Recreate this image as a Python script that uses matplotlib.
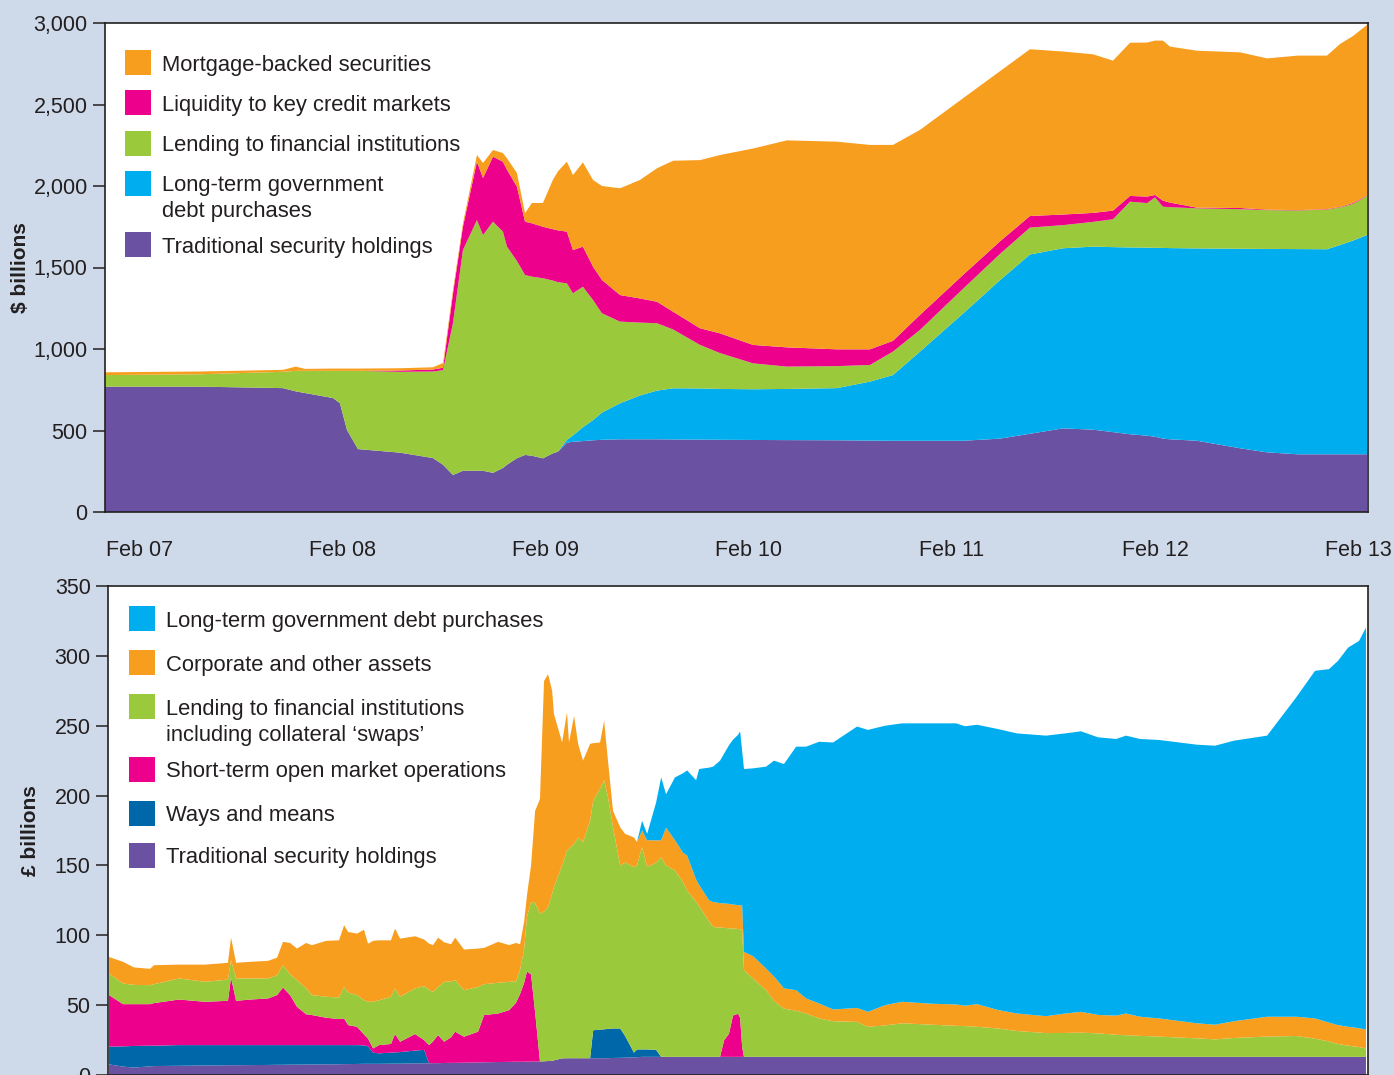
import matplotlib
matplotlib.use("Agg")
import matplotlib.pyplot as plt
from matplotlib.patches import Rectangle

# ---- US: Federal Reserve balance sheet, $ billions ----
us_dates = [2006.828, 2007.296, 2007.704, 2007.768, 2007.813, 2007.951, 2007.985, 2008.020, 2008.074, 2008.281,
            2008.443, 2008.493, 2008.542, 2008.591, 2008.660, 2008.690, 2008.739, 2008.788, 2008.808, 2008.857,
            2008.897, 2008.931, 2008.985, 2009.034, 2009.059, 2009.103, 2009.133, 2009.182, 2009.232, 2009.276,
            2009.365, 2009.463, 2009.547, 2009.626, 2009.759, 2009.857, 2010.020, 2010.187, 2010.433, 2010.596,
            2010.709, 2010.842, 2011.054, 2011.236, 2011.384, 2011.547, 2011.695, 2011.793, 2011.877, 2011.961,
            2012.000, 2012.039, 2012.074, 2012.207, 2012.419, 2012.552, 2012.704, 2012.847, 2012.911, 2012.975,
            2013.044]
us_traditional = [769, 769, 760, 740, 730, 699, 668, 503, 386, 364,
                  331, 290, 227, 253, 253, 253, 240, 270, 290, 330,
                  350, 345, 329, 360, 370, 425, 431, 435, 440, 443,
                  446, 446, 446, 445, 444, 443, 442, 441, 440, 438,
                  437, 437, 437, 450, 480, 513, 505, 490, 477, 468,
                  462, 450, 446, 437, 391, 366, 354, 354, 354, 354,
                  354]
us_longterm = [0, 0, 0, 0, 0, 0, 0, 0, 0, 0,
               0, 0, 0, 0, 0, 0, 0, 0, 0, 0,
               0, 0, 0, 0, 0, 17, 39, 85, 124, 167,
               221, 269, 299, 314, 314, 312, 311, 314, 320, 362,
               403, 547, 780, 972, 1100, 1105, 1123, 1135, 1146, 1154,
               1159, 1170, 1173, 1180, 1224, 1248, 1259, 1258, 1284, 1311,
               1345]
us_lending = [71, 76, 100, 126, 136, 167, 198, 363, 480, 496,
              531, 580, 933, 1354, 1538, 1446, 1541, 1450, 1338, 1210,
              1104, 1099, 1105, 1060, 1040, 961, 872, 862, 736, 609,
              501, 447, 413, 361, 267, 220, 159, 137, 135, 102,
              144, 133, 152, 161, 165, 142, 152, 171, 281, 273,
              309, 253, 251, 246, 243, 238, 237, 243, 231, 225,
              240]
us_liquidity = [0, 0, 0, 0, 0, 0, 0, 0, 0, 8,
                12, 15, 180, 143, 358, 350, 399, 429, 472, 456,
                327, 327, 316, 315, 318, 317, 265, 246, 205, 204,
                163, 148, 132, 109, 102, 121, 113, 118, 103, 96,
                66, 92, 85, 77, 71, 65, 55, 53, 35, 40,
                15, 37, 28, 4, 7, 3, 2, 3, 3, 5,
                3]
us_mbs = [17, 17, 12, 26, 12, 14, 14, 14, 14, 14,
          14, 29, 22, 20, 41, 92, 41, 53, 70, 84,
          53, 125, 146, 302, 362, 429, 460, 517, 532, 577,
          655, 727, 819, 926, 1032, 1094, 1205, 1270, 1274, 1254,
          1202, 1135, 1084, 1044, 1023, 1000, 973, 920, 940, 945,
          947, 982, 957, 963, 955, 928, 948, 942, 999, 1025,
          1046]

# ---- UK: Bank of England balance sheet, £ billions ----
uk_dates = [2006.847, 2006.916, 2006.970, 2007.049, 2007.069, 2007.192, 2007.320, 2007.433, 2007.448, 2007.473,
            2007.542, 2007.631, 2007.675, 2007.704, 2007.739, 2007.773, 2007.818, 2007.847, 2007.916, 2007.980,
            2008.005, 2008.025, 2008.069, 2008.103, 2008.123, 2008.148, 2008.177, 2008.236, 2008.256, 2008.281,
            2008.355, 2008.399, 2008.424, 2008.443, 2008.468, 2008.498, 2008.532, 2008.552, 2008.596, 2008.665,
            2008.695, 2008.764, 2008.818, 2008.852, 2008.872, 2008.892, 2008.906, 2008.926, 2008.946, 2008.970,
            2008.990, 2009.010, 2009.030, 2009.039, 2009.079, 2009.103, 2009.113, 2009.138, 2009.158, 2009.182,
            2009.217, 2009.232, 2009.266, 2009.286, 2009.305, 2009.330, 2009.365, 2009.389, 2009.433, 2009.448,
            2009.473, 2009.498, 2009.542, 2009.567, 2009.591, 2009.635, 2009.675, 2009.695, 2009.739, 2009.754,
            2009.803, 2009.823, 2009.857, 2009.877, 2009.901, 2009.921, 2009.946, 2009.956, 2009.966, 2009.975,
            2010.020, 2010.084, 2010.123, 2010.172, 2010.232, 2010.281, 2010.345, 2010.414, 2010.532, 2010.586,
            2010.670, 2010.754, 2010.901, 2011.020, 2011.064, 2011.123, 2011.227, 2011.320, 2011.463, 2011.557,
            2011.635, 2011.719, 2011.808, 2011.857, 2011.926, 2012.020, 2012.207, 2012.296, 2012.389, 2012.552,
            2012.695, 2012.788, 2012.857, 2012.901, 2012.951, 2013.005, 2013.039]
uk_traditional = [7.6, 6.0, 5.3, 6.2, 6.4, 6.6, 6.8, 7.0, 7.0, 7.0,
                  7.1, 7.2, 7.3, 7.3, 7.4, 7.4, 7.5, 7.5, 7.6, 7.7,
                  7.8, 7.8, 7.9, 8.0, 8.0, 8.0, 8.0, 8.1, 8.1, 8.1,
                  8.3, 8.4, 8.4, 8.5, 8.5, 8.6, 8.7, 8.7, 8.8, 9.0,
                  9.1, 9.3, 9.4, 9.5, 9.5, 9.5, 9.6, 9.6, 9.7, 9.7,
                  9.8, 10.0, 10.0, 10.5, 11.9, 12.0, 12.0, 12.0, 12.0, 12.0,
                  12.0, 12.0, 12.0, 12.0, 12.0, 12.2, 12.3, 12.4, 12.6, 12.7,
                  13.0, 13.0, 13.0, 13.0, 13.0, 13.0, 13.0, 13.0, 13.0, 13.0,
                  13.0, 13.0, 13.0, 13.0, 13.0, 13.0, 13.0, 13.0, 13.0, 13.0,
                  13.0, 13.0, 13.0, 13.0, 13.0, 13.0, 13.0, 13.0, 13.0, 13.0,
                  13.0, 13.0, 13.0, 13.0, 13.0, 13.0, 13.0, 13.0, 13.0, 13.0,
                  13.0, 13.0, 13.0, 13.0, 13.0, 13.0, 13.0, 13.0, 13.0, 13.0,
                  13.0, 13.0, 13.0, 13.0, 13.0, 13.0, 13.0]
uk_ways = [12.7, 14.5, 15.5, 14.8, 14.6, 14.8, 14.6, 14.4, 14.4, 14.4,
           14.3, 14.2, 14.1, 14.1, 14.0, 14.0, 13.9, 13.9, 13.8, 13.7,
           13.6, 13.6, 13.5, 13.2, 12.5, 8.0, 7.5, 7.9, 8.1, 8.3,
           9.2, 9.6, 0, 0, 0, 0, 0, 0, 0, 0,
           0, 0, 0, 0, 0, 0, 0, 0, 0, 0,
           0, 0, 0, 0, 0, 0, 0, 0, 0, 0,
           0, 20.0, 20.5, 20.7, 21.0, 21.1, 21.0, 15.6, 3.4, 5.6,
           5.3, 5.3, 5.0, 0, 0, 0, 0, 0, 0, 0,
           0, 0, 0, 0, 0, 0, 0, 0, 0, 0,
           0, 0, 0, 0, 0, 0, 0, 0, 0, 0,
           0, 0, 0, 0, 0, 0, 0, 0, 0, 0,
           0, 0, 0, 0, 0, 0, 0, 0, 0, 0,
           0, 0, 0, 0, 0, 0, 0]
uk_short_term = [36.9, 30.2, 29.9, 29.7, 30.5, 32.6, 31.0, 31.7, 48.4, 31.7,
                 32.6, 33.4, 35.8, 41.2, 35.8, 27.4, 22.1, 21.5, 19.6, 18.6,
                 19.1, 14.3, 13.1, 7.8, 5.5, 3.0, 5.9, 6.2, 13.1, 7.4,
                 11.8, 7.0, 13.0, 15.5, 20.1, 15.2, 18.3, 22.3, 18.6, 22.0,
                 33.8, 34.7, 37.0, 42.2, 48.5, 56.5, 64.4, 62.4, 35.3, 0,
                 0, 0, 0, 0, 0, 0, 0, 0, 0, 0,
                 0, 0, 0, 0, 0, 0, 0, 0, 0, 0,
                 0, 0, 0, 0, 0, 0, 0, 0, 0, 0,
                 0, 0, 0, 11.8, 16.5, 29.6, 30.8, 28.0, 7.0, 0,
                 0, 0, 0, 0, 0, 0, 0, 0, 0, 0,
                 0, 0, 0, 0, 0, 0, 0, 0, 0, 0,
                 0, 0, 0, 0, 0, 0, 0, 0, 0, 0,
                 0, 0, 0, 0, 0, 0, 0]
uk_lending = [15.4, 14.8, 13.8, 13.6, 13.5, 15.1, 14.3, 15.2, 12.4, 16.0,
              15.1, 14.3, 14.2, 16.0, 14.8, 19.1, 18.5, 14.3, 15.0, 15.5,
              22.6, 23.3, 22.7, 24.5, 26.5, 33.4, 32.1, 33.8, 32.6, 32.2,
              32.7, 38.6, 39.6, 35.5, 34.4, 42.9, 40.0, 36.9, 33.3, 32.0,
              22.1, 22.0, 20.3, 15.3, 17.5, 24.0, 39.1, 52.0, 78.0, 105.8,
              107.2, 110.0, 120.0, 124.0, 138.1, 148.7, 150.0, 153.5, 158.0, 154.7,
              170.0, 164.4, 172.5, 178.3, 165.8, 144.1, 116.7, 124.0, 132.8, 131.7,
              144.8, 130.5, 134.0, 142.9, 137.0, 133.4, 125.0, 119.0, 111.0, 108.0,
              97.0, 92.9, 92.5, 80.5, 75.5, 62.2, 60.7, 63.3, 84.0, 62.0,
              56.0, 47.7, 40.0, 34.5, 33.0, 31.0, 27.5, 25.5, 25.0, 21.5,
              22.5, 24.0, 23.0, 22.2, 22.0, 21.5, 20.3, 18.5, 17.0, 17.1,
              17.3, 16.8, 15.8, 15.5, 15.0, 14.5, 13.2, 12.5, 13.5, 14.5,
              14.9, 13.0, 11.0, 9.2, 8.0, 7.0, 6.0]
uk_corporate = [11.9, 15.5, 12.5, 11.7, 13.6, 9.9, 12.3, 12.0, 16.1, 11.2,
                11.9, 12.6, 12.6, 16.7, 22.5, 22.6, 32.5, 35.7, 40.0, 40.9,
                44.1, 43.4, 44.0, 50.5, 41.5, 43.6, 42.9, 40.4, 42.9, 41.6,
                37.3, 33.4, 33.0, 33.4, 35.3, 28.3, 26.6, 30.4, 29.1, 27.5,
                26.0, 29.3, 26.3, 27.5, 18.1, 20.0, 15.5, 26.0, 66.0, 82.1,
                165.0, 166.9, 145.0, 123.8, 88.1, 98.8, 76.0, 91.5, 67.0, 58.3,
                55.0, 41.1, 33.0, 42.6, 26.2, 11.6, 27.4, 20.6, 21.2, 16.7,
                11.9, 19.2, 16.0, 12.1, 27.0, 21.6, 21.0, 25.0, 16.0, 15.0,
                15.0, 17.9, 17.5, 17.5, 17.5, 17.2, 17.1, 17.2, 17.4, 13.1,
                16.0, 15.5, 17.5, 14.5, 14.7, 10.8, 10.7, 8.4, 10.0, 10.7,
                14.5, 15.4, 15.0, 15.3, 14.6, 16.2, 13.2, 12.5, 12.1, 13.9,
                14.9, 13.2, 13.7, 15.5, 13.7, 13.0, 10.8, 10.5, 12.0, 14.2,
                13.8, 14.5, 13.5, 13.5, 13.5, 13.5, 13.6]
uk_longterm = [0, 0, 0, 0, 0, 0, 0, 0, 0, 0,
               0, 0, 0, 0, 0, 0, 0, 0, 0, 0,
               0, 0, 0, 0, 0, 0, 0, 0, 0, 0,
               0, 0, 0, 0, 0, 0, 0, 0, 0, 0,
               0, 0, 0, 0, 0, 0, 0, 0, 0, 0,
               0, 0, 0, 0, 0, 0, 0, 0, 0, 0,
               0, 0, 0, 0, 0, 0, 0, 0, 0, 0,
               7.0, 4.6, 27.0, 45.0, 24.0, 45.0, 57.0, 61.0, 71.0, 83.0,
               95.0, 96.9, 102.0, 107.2, 113.5, 118.0, 121.9, 124.5, 110.6, 130.9,
               134.5, 144.5, 154.5, 160.6, 174.3, 180.2, 187.3, 191.1, 201.4, 201.8,
               200.0, 199.3, 200.7, 201.2, 200.0, 200.0, 201.1, 200.5, 200.8, 200.5,
               200.8, 198.7, 198.0, 198.9, 198.8, 199.3, 199.4, 199.7, 200.8, 201.2,
               228.5, 248.8, 253.0, 260.7, 271.4, 277.2, 287.6]

year_ticks = [2007, 2008, 2009, 2010, 2011, 2012, 2013]
year_labels = ["Feb 07", "Feb 08", "Feb 09", "Feb 10", "Feb 11", "Feb 12", "Feb 13"]

# colours
BG = "#cedaea"
INK = "#231f20"
ORANGE = "#f89e1f"
PINK = "#ec008c"
GREEN = "#9bc93c"
CYAN = "#00aeef"
PURPLE = "#6a51a1"
NAVY = "#0068a9"

W, H = 1394, 1075
FS = 15.8
plt.rcParams['font.family'] = ['Liberation Sans', 'DejaVu Sans']

fig = plt.figure(figsize=(W / 100, H / 100), dpi=100, facecolor=BG)


def px_box(left, top, right, bottom):
    return [left / W, 1 - bottom / H, (right - left) / W, (bottom - top) / H]


def style_axis(ax, yticks):
    ax.set_facecolor("white")
    for s in ax.spines.values():
        s.set_linewidth(1.2)
        s.set_color(INK)
    ax.set_yticks(yticks)
    ax.set_yticklabels([f"{v:,}" for v in yticks])
    ax.tick_params(axis="y", direction="out", length=8.5, width=1.1,
                   pad=4, labelsize=15.5, colors=INK)


def draw_legend(entries, x_box, x_text, tops, box_w=26, box_h=25):
    for (label, color), top in zip(entries, tops):
        fig.patches.append(Rectangle((x_box / W, 1 - (top + box_h) / H), box_w / W, box_h / H,
                                     transform=fig.transFigure, facecolor=color, edgecolor="none"))
        base = top + box_h / 2 + 8
        for i, line in enumerate(label.split("\n")):
            fig.text(x_text / W, 1 - (base + i * 26) / H, line, va="baseline", ha="left",
                     fontsize=FS, color=INK)


# ---- top panel ----
ax1 = fig.add_axes(px_box(105, 23, 1368, 512))
ax1.stackplot(us_dates, us_traditional, us_longterm, us_lending, us_liquidity, us_mbs,
              colors=[PURPLE, CYAN, GREEN, PINK, ORANGE], linewidth=0)
ax1.set_xlim(2006.828, 2013.049)
ax1.set_ylim(0, 3000)
style_axis(ax1, [0, 500, 1000, 1500, 2000, 2500, 3000])
ax1.set_xticks(year_ticks)
ax1.set_xticklabels(year_labels)
ax1.tick_params(axis="x", length=0, pad=20, labelsize=15.5, colors=INK)

fig.text(21 / W, 1 - 268 / H, "$ billions", rotation=90, ha="center", va="center",
         fontsize=15, fontweight="bold", color=INK)

draw_legend([("Mortgage-backed securities", ORANGE),
             ("Liquidity to key credit markets", PINK),
             ("Lending to financial institutions", GREEN),
             ("Long-term government\ndebt purchases", CYAN),
             ("Traditional security holdings", PURPLE)],
            125, 162, [50, 90, 131, 171, 232])

# ---- bottom panel ----
ax2 = fig.add_axes(px_box(108, 586, 1368, 1075))
ax2.stackplot(uk_dates, uk_traditional, uk_ways, uk_short_term, uk_lending, uk_corporate, uk_longterm,
              colors=[PURPLE, NAVY, PINK, GREEN, ORANGE, CYAN], linewidth=0)
ax2.set_xlim(2006.842, 2013.049)
ax2.set_ylim(0, 350)
style_axis(ax2, [0, 50, 100, 150, 200, 250, 300, 350])
ax2.set_xticks([])

fig.text(31 / W, 1 - 831 / H, "£ billions", rotation=90, ha="center", va="center",
         fontsize=15, fontweight="bold", color=INK)

draw_legend([("Long-term government debt purchases", CYAN),
             ("Corporate and other assets", ORANGE),
             ("Lending to financial institutions\nincluding collateral \u2018swaps\u2019", GREEN),
             ("Short-term open market operations", PINK),
             ("Ways and means", NAVY),
             ("Traditional security holdings", PURPLE)],
            129, 166, [606, 650, 694, 757, 801, 843])

fig.savefig("out.png", dpi=100, facecolor=BG)
